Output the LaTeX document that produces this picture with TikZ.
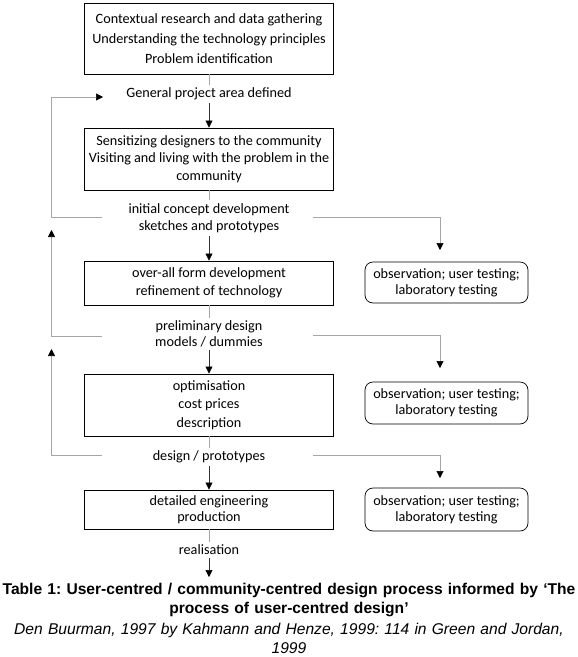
\documentclass[tikz,border=0pt]{standalone}
\usepackage{fontspec}
\setmainfont{Carlito}
\newfontfamily\capfont{Liberation Sans}
\usetikzlibrary{arrows.meta}
\frenchspacing
\tikzset{
  stepbox/.style={draw, line width=0.9pt, minimum width=249pt, inner sep=0pt, align=center},
  testbox/.style={draw, line width=0.7pt, rounded corners=8pt, minimum width=163pt, inner sep=0pt, align=center, font=\fontsize{14.2}{16}\selectfont},
  lab/.style={inner xsep=2pt, inner ysep=3pt, align=center},
  stub/.style={draw=gray!70, line width=0.6pt},
  fb/.style={draw=gray!70, line width=0.6pt},
  tip/.style={-{Triangle[length=7pt,width=7pt,color=black]}},
  mainarr/.style={draw=black!80, line width=0.6pt, -{Triangle[length=7pt,width=7pt,color=black]}},
  captxt/.style={align=center, inner sep=0pt, text width=578pt, anchor=north},
}
\begin{document}
\begin{tikzpicture}[x=1pt,y=-1pt, font=\fontsize{14.2}{18}\selectfont]
\useasboundingbox (0,0) rectangle (578,657);

% main boxes
\node[stepbox, minimum height=71pt, font=\fontsize{14.2}{20}\selectfont] (b1) at (209,38.5)
  {Contextual research and data gathering\\Understanding the technology principles\\Problem identification};
\node[stepbox, minimum height=62pt, font=\fontsize{14.2}{17.5}\selectfont] (b2) at (209,159)
  {Sensitizing designers to the community\\Visiting and living with the problem in the\\community};
\node[stepbox, minimum height=44pt, font=\fontsize{14.2}{18}\selectfont] (b3) at (209,283)
  {over-all form development\\refinement of technology};
\node[stepbox, minimum height=62pt, font=\fontsize{14.2}{18.5}\selectfont] (b4) at (209,405)
  {optimisation\\cost prices\\description};
\node[stepbox, minimum height=39pt, font=\fontsize{14.2}{15.5}\selectfont] (b5) at (209,509.5)
  {detailed engineering\\production};

% test boxes
\node[testbox, minimum height=41pt] (t1) at (446.5,282.5) {observation; user testing;\\laboratory testing};
\node[testbox, minimum height=42pt] (t2) at (446.5,403) {observation; user testing;\\laboratory testing};
\node[testbox, minimum height=43pt] (t3) at (446.5,509.5) {observation; user testing;\\laboratory testing};

% labels
\node[lab] (l1) at (209,94) {General project area defined};
\node[lab, font=\fontsize{14.2}{17}\selectfont] (l2) at (209,218) {initial concept development\\sketches and prototypes};
\node[lab, font=\fontsize{14.2}{16}\selectfont] (l3) at (209,334) {preliminary design\\models / dummies};
\node[lab] (l4) at (209,457) {design / prototypes};
\node[lab] (l5) at (209,550) {realisation};

% caption
\node[captxt, font=\capfont\bfseries\fontsize{15.6}{19}\selectfont] (cap) at (289,582.5)
  {Table 1: User-centred / community-centred design process informed by ‘The\\process of user-centred design’};
\node[captxt, font=\capfont\itshape\fontsize{15.6}{19}\selectfont] (src) at (289,622.5)
  {Den Buurman, 1997 by Kahmann and Henze, 1999: 114 in Green and Jordan,\\1999};

% coordinates for free ends
\coordinate (a1) at (103,97);
\coordinate (lA) at (102,217);
\coordinate (rA) at (312.5,217);
\coordinate (lB) at (102,336);
\coordinate (rB) at (312.5,335);
\coordinate (lC) at (102,455);
\coordinate (rC) at (312.5,455);
\coordinate (up1) at (51.5,230);
\coordinate (up2) at (51.5,349);
\coordinate (dn1) at (440,250);
\coordinate (dn2) at (440,368);
\coordinate (dn3) at (440,478);
\coordinate (capTip) at (209,577);

% stubs from boxes to labels
\draw[stub] (b1.south) -- (l1.north);
\draw[stub] (b2.south) -- (l2.north);
\draw[stub] (b3.south) -- (l3.north);
\draw[stub] (b4.south) -- (l4.north);
\draw[stub] (b5.south) -- (l5.north);

% main arrows
\draw[mainarr] (l1.south) -- (b2.north);
\draw[mainarr] (l2.south) -- (b3.north);
\draw[mainarr] (l3.south) -- (b4.north);
\draw[mainarr] (l4.south) -- (b5.north);
\draw[mainarr] (l5.south) -- (capTip);

% feedback loops
\draw[fb, tip] (lA) -- (51.5,217) -- (51.5,97) -- (a1);
\draw[fb, tip] (lB) -- (51.5,336) -- (up1);
\draw[fb, tip] (lC) -- (51.5,455) -- (up2);

% to testing
\draw[fb, tip] (rA) -| (dn1);
\draw[fb, tip] (rB) -| (dn2);
\draw[fb, tip] (rC) -| (dn3);
\end{tikzpicture}
\end{document}
